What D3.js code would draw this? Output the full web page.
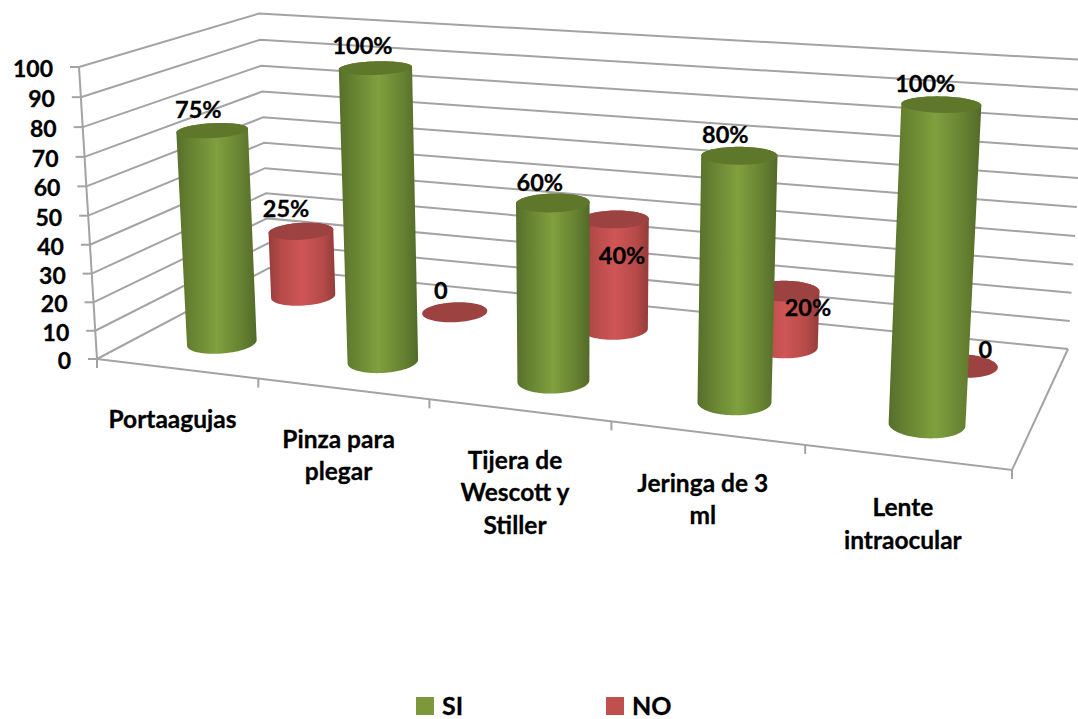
<!DOCTYPE html>
<html><head><meta charset="utf-8">
<script src="https://cdnjs.cloudflare.com/ajax/libs/d3/7.8.5/d3.min.js"></script>
<style>html,body{margin:0;background:#fff}svg{display:block}
text{font-family:Lato,"Noto Sans",sans-serif;font-weight:700;fill:#000;stroke:#000;stroke-width:.3px}</style>
</head><body><div id="c"></div>
<script>
const categories=[["Portaagujas"],["Pinza para","plegar"],["Tijera de","Wescott y","Stiller"],["Jeringa de 3","ml"],["Lente","intraocular"]];
const seriesNames=["SI","NO"];
const siValues=[75,100,60,80,100];
const noValues=[25,0,40,20,0];
const yTicks=[0,10,20,30,40,50,60,70,80,90,100];

const W=1078,H=719;
// Image positions of the corners of the 3-D box (front-left floor, front-right floor, back-left floor, front-left top, back-right floor, back-right top)
const O=[97,359,1],U=[1012,470,1],V=[269,268,1],T=[79,67,1],BR=[1068,349,1],E=[1086,61.5,1];
function det3(m){return m[0][0]*(m[1][1]*m[2][2]-m[1][2]*m[2][1])-m[0][1]*(m[1][0]*m[2][2]-m[1][2]*m[2][0])+m[0][2]*(m[1][0]*m[2][1]-m[1][1]*m[2][0]);}
function solve3(c1,c2,c3,r){const col=(a,b,c)=>[0,1,2].map(i=>[a[i],b[i],c[i]]);const D=det3(col(c1,c2,c3));return [det3(col(r,c2,c3))/D,det3(col(c1,r,c3))/D,det3(col(c1,c2,r))/D];}
const [a,b,f0]=solve3(U,V,BR.map(x=>-x),O);
const f=f0,d=1;
const rhs=O.map((x,i)=>d*x-f*BR[i]);
const det=T[0]*(-E[2])-(-E[0])*T[2];
const c=(rhs[0]*(-E[2])-(-E[0])*rhs[2])/det;
const p4=O.map(x=>d*x),p1=U.map((x,i)=>a*x-p4[i]),p2=V.map((x,i)=>b*x-p4[i]),p3=T.map((x,i)=>c*x-p4[i]);
function proj(u,v,w){const h=[0,1,2].map(i=>p1[i]*u+p2[i]*v+p3[i]*w+p4[i]);return [h[0]/h[2],h[1]/h[2]];}

const xBand=d3.scaleBand().domain(d3.range(categories.length)).range([0,1]);
const zBand=d3.scaleBand().domain(seriesNames).range([0,1]);
const yS=d3.scaleLinear().domain([0,100]).range([0,1]);

const svg=d3.select("#c").append("svg").attr("width",W).attr("height",H);
const defs=svg.append("defs");
function grad(id,stops){const g=defs.append("linearGradient").attr("id",id).attr("x1",0).attr("x2",1).attr("y1",0).attr("y2",0);
 stops.forEach(s=>g.append("stop").attr("offset",s[0]).attr("stop-color",s[1]));}
grad("gSI",[[0,"#566f2c"],[.18,"#668231"],[.5,"#7fa03e"],[.8,"#678332"],[1,"#526a29"]]);
grad("gNO",[[0,"#973d3b"],[.18,"#b54b49"],[.5,"#cf5655"],[.82,"#b44a48"],[1,"#943b39"]]);
const colors={SI:{side:"url(#gSI)",top:"#5f772b",legend:"#7c983a"},NO:{side:"url(#gNO)",top:"#9c4240",legend:"#c0504d"}};

const line=d3.line();
const gridG=svg.append("g").attr("fill","none").attr("stroke","#a3a3a3").attr("stroke-width",2);
gridG.selectAll("path.grid").data(yTicks).join("path").attr("class","grid")
 .attr("d",t=>line([proj(0,0,yS(t)),proj(0,1,yS(t)),proj(1,1,yS(t))]));
gridG.append("path").attr("d",line([proj(0,0,0),proj(0,0,1)]));
gridG.append("path").attr("d",line([proj(0,0,0),proj(1,0,0),proj(1,1,0)]));
gridG.selectAll("path.ty").data(yTicks).join("path").attr("class","ty")
 .attr("d",t=>{const p=proj(0,0,yS(t));return line([[p[0]-9,p[1]],p]);});
gridG.selectAll("path.tx").data(d3.range(categories.length+1)).join("path").attr("class","tx")
 .attr("d",i=>{const p=proj(i/categories.length,0,0);return line([p,[p[0],p[1]+9]]);});

// y-axis labels
svg.append("g").selectAll("text").data(yTicks).join("text")
 .attr("text-anchor","end").attr("font-size",23).attr("dominant-baseline","central")
 .attr("x",t=>proj(0,0,yS(t))[0]-26).attr("y",t=>proj(0,0,yS(t))[1]+1).text(t=>t);

// category labels
const catG=svg.append("g").selectAll("g").data(categories).join("g")
 .attr("transform",(cat,i)=>{const p=proj(xBand(i)+xBand.bandwidth()/2,0,0);return `translate(${p[0]-4},${p[1]+49.5})`;});
catG.selectAll("text").data(l=>l).join("text").attr("text-anchor","middle").attr("font-size",24.5)
 .attr("dominant-baseline","central").attr("y",(l,j)=>j*32.3).text(l=>l);

// cylinders
const rU=0.0378,rV=0.105;
const angles=d3.range(0,2*Math.PI,Math.PI/40);
function ring(i,s,w){const cu=xBand(i)+xBand.bandwidth()/2,cv=zBand(s)+zBand.bandwidth()/2;
 return angles.map(t=>proj(cu+rU*Math.cos(t),cv+rV*Math.sin(t),w));}
function drawSeries(name,vals){
 const g=svg.append("g");
 vals.forEach((v,i)=>{
  const w=yS(v),base=ring(i,name,0),top=ring(i,name,w);
  if(v>0) g.append("path").attr("d",line(d3.polygonHull(base.concat(top)))+"Z").attr("fill",colors[name].side);
  g.append("path").attr("d",line(top)+"Z").attr("fill",colors[name].top);
 });
}
drawSeries("NO",noValues);
drawSeries("SI",siValues);

// data labels
const labelOffsetSI=[[-14,-22],[-13,-23],[-13,-21],[-14,-22],[-16,-21]];
const labelOffsetNO=[[-15,-23],[-14,-22],[7,36],[23,16],[23,-17]];
function labels(name,vals,off){
 svg.append("g").selectAll("text").data(vals).join("text").attr("text-anchor","middle").attr("font-size",23.5).attr("dominant-baseline","central")
 .attr("x",(v,i)=>proj(xBand(i)+xBand.bandwidth()/2,zBand(name)+zBand.bandwidth()/2,yS(v))[0]+off[i][0])
 .attr("y",(v,i)=>proj(xBand(i)+xBand.bandwidth()/2,zBand(name)+zBand.bandwidth()/2,yS(v))[1]+off[i][1])
 .text(v=>v===0?"0":v+"%");
}
labels("SI",siValues,labelOffsetSI);
labels("NO",noValues,labelOffsetNO);

// legend
const legX=d3.scalePoint().domain(seriesNames).range([416,606]);
const lg=svg.append("g").selectAll("g").data(seriesNames).join("g").attr("transform",s=>`translate(${legX(s)},697)`);
lg.append("rect").attr("width",18).attr("height",18).attr("fill",s=>colors[s].legend);
lg.append("text").attr("x",26).attr("y",7.5).attr("dominant-baseline","central").attr("font-size",25).text(s=>s);
</script></body></html>
